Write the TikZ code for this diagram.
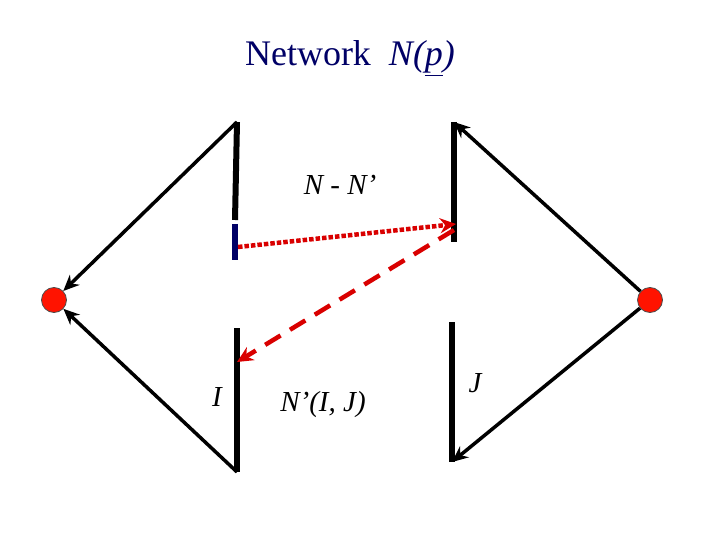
\documentclass[tikz,border=0pt]{standalone}
\usepackage{fontspec}
\setmainfont{Liberation Serif}
\usetikzlibrary{arrows.meta}
\begin{document}
\begin{tikzpicture}[x=1pt,y=-1pt,
  bar/.style={line width=6pt},
  edge/.style={line width=3.5pt,-{Stealth[length=16pt,width=14pt]}},
  red1/.style={draw=red!85!black,line width=4.5pt,-{Stealth[length=16pt,width=15pt]}},
  dot/.style={circle,fill=red!85!orange,draw=black!70,line width=0.8pt,minimum size=25pt,inner sep=0pt},
  lab/.style={font=\fontsize{29}{31}\selectfont\itshape,inner sep=0pt}]
\useasboundingbox (0,0) rectangle (720,540);
\node[font=\fontsize{36}{38}\selectfont,text=blue!40!black,inner sep=0pt] (title) at (350,58) {Network\hspace{18pt}\textit{N(\underline{p})}};
\coordinate (a1) at (237,122); \coordinate (a2) at (235,220);
\coordinate (b1) at (235,224); \coordinate (b2) at (235,260);
\coordinate (c1) at (237,328); \coordinate (c2) at (237,472);
\coordinate (d1) at (454,122); \coordinate (d2) at (454,242);
\coordinate (e1) at (452,322); \coordinate (e2) at (452,462);
\draw[bar] (a1) -- (a2);
\draw[bar,blue!40!black] (b1) -- (b2);
\draw[bar] (c1) -- (c2);
\draw[bar] (d1) -- (d2);
\draw[bar] (e1) -- (e2);
\node[dot] (L) at (54,300) {};
\node[dot] (R) at (650,300) {};
\draw[edge] (a1) -- (L);
\draw[edge] (c2) -- (L);
\draw[edge] (R) -- (d1);
\draw[edge] (R) -- (e2);
\coordinate (p1) at (238,247); \coordinate (p2) at (456,224);
\coordinate (q1) at (454,230); \coordinate (q2) at (237,362);
\draw[red1,dotted] (p1) -- (p2);
\draw[red1,dash pattern=on 18pt off 11pt] (q1) -- (q2);
\node[lab] (nn) at (340,185) {N - N'};
\node[lab] (i) at (217,397) {I};
\node[lab] (nij) at (323,405) {N'(I, J)};
\node[lab] (j) at (475,383) {J};
\end{tikzpicture}
\end{document}
